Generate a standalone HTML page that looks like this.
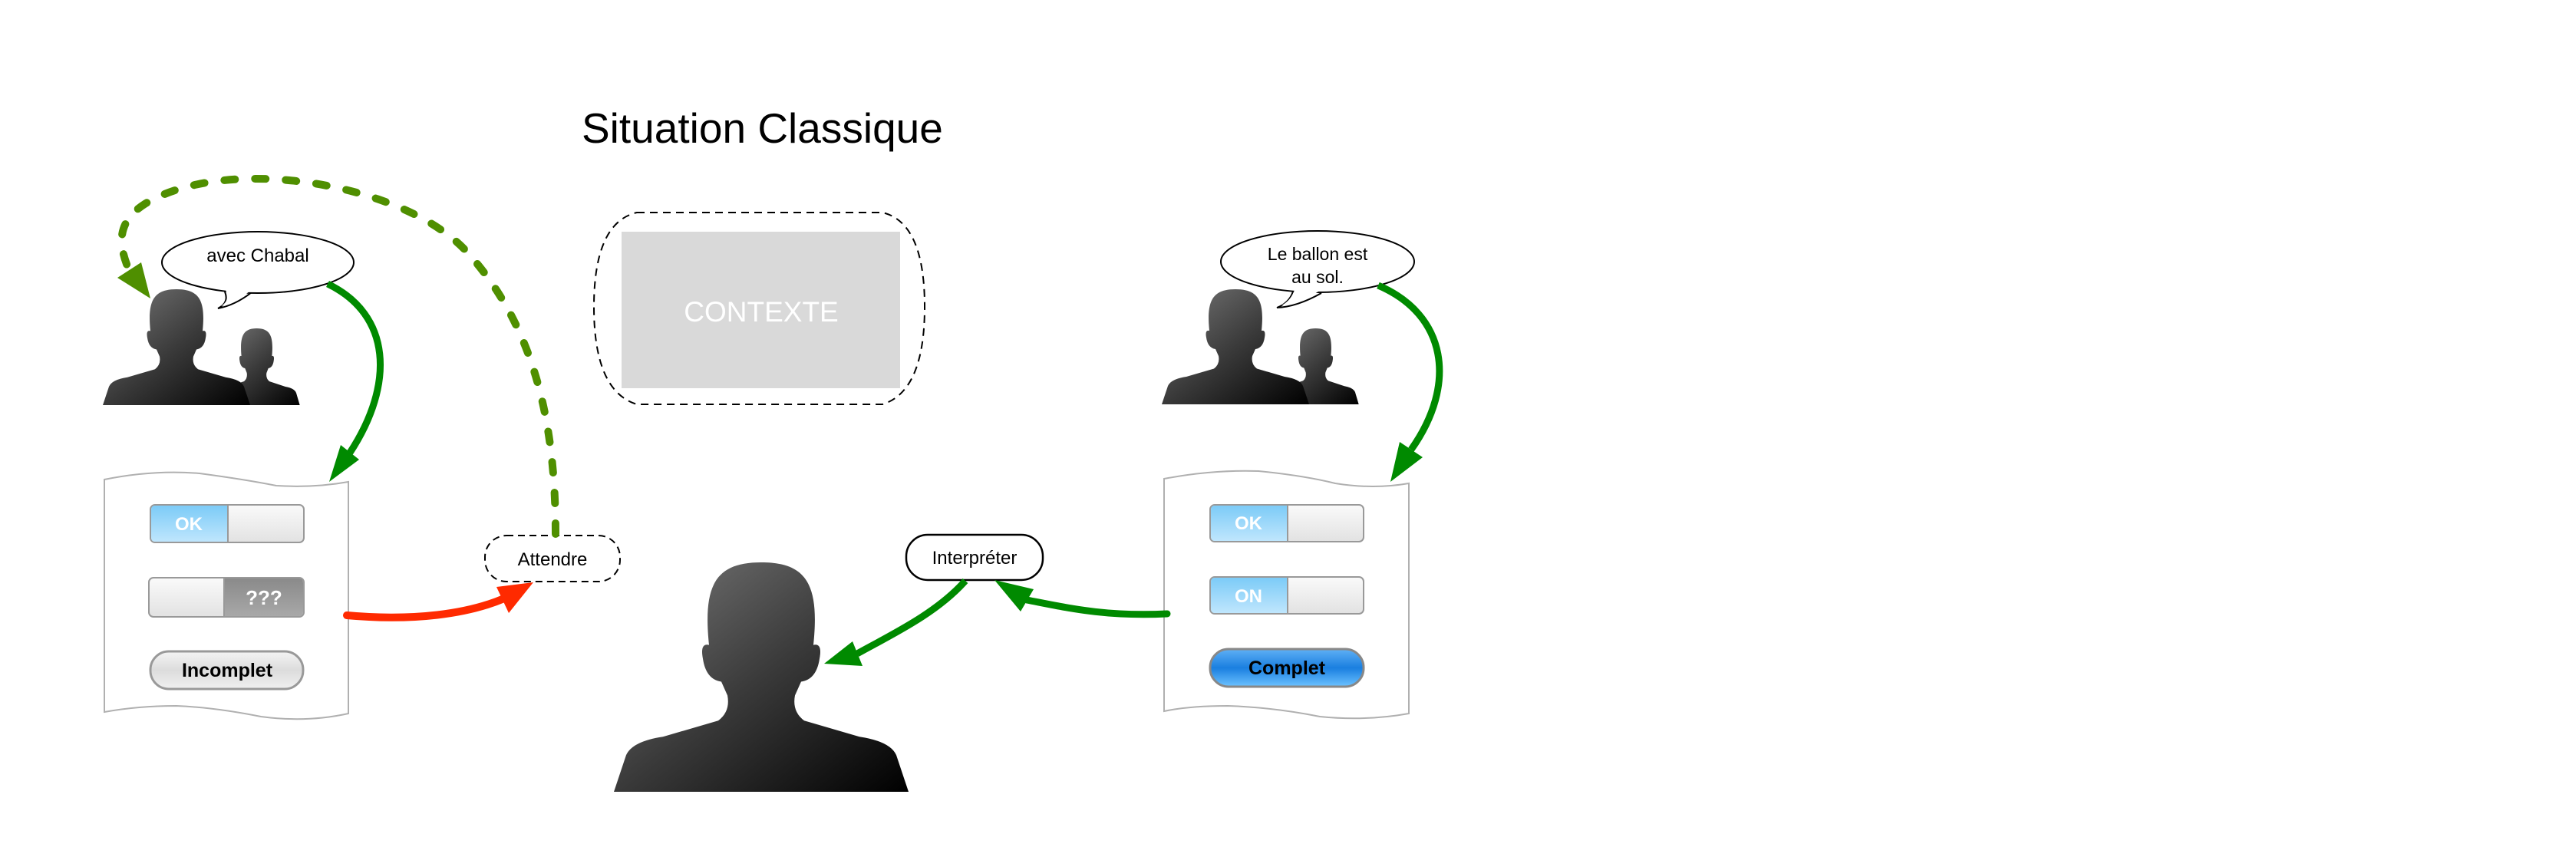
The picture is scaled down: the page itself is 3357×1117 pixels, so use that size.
<!DOCTYPE html>
<html><head><meta charset="utf-8"><style>
html,body{margin:0;padding:0;background:#fff;}
svg{display:block;}
text{font-family:"Liberation Sans",sans-serif;}
</style></head><body>
<svg width="3357" height="1117" viewBox="0 0 3357 1117" xmlns="http://www.w3.org/2000/svg">
<defs>
<linearGradient id="pg" x1="0" y1="0" x2="1" y2="1">
<stop offset="0" stop-color="#7a7a7a"/><stop offset="0.5" stop-color="#3a3a3a"/><stop offset="1" stop-color="#000"/>
</linearGradient>
<linearGradient id="blue" x1="0" y1="0" x2="0" y2="1">
<stop offset="0" stop-color="#7ccbf7"/><stop offset="1" stop-color="#bfe6fd"/>
</linearGradient>
<linearGradient id="wgray" x1="0" y1="0" x2="0" y2="1">
<stop offset="0" stop-color="#fafafa"/><stop offset="1" stop-color="#e2e2e2"/>
</linearGradient>
<linearGradient id="dgray" x1="0" y1="0" x2="0" y2="1">
<stop offset="0" stop-color="#8a8a8a"/><stop offset="1" stop-color="#a8a8a8"/>
</linearGradient>
<linearGradient id="btnb" x1="0" y1="0" x2="0" y2="1">
<stop offset="0" stop-color="#5fb0f5"/><stop offset="0.5" stop-color="#1a7fe0"/><stop offset="1" stop-color="#6cc2ff"/>
</linearGradient>
<linearGradient id="btng" x1="0" y1="0" x2="0" y2="1">
<stop offset="0" stop-color="#f4f4f4"/><stop offset="0.5" stop-color="#dcdcdc"/><stop offset="1" stop-color="#f0f0f0"/>
</linearGradient>
<symbol id="person" viewBox="0 0 100 100" preserveAspectRatio="none">
<path d="M2 100 L6 84 Q8 78 18 76 L36 69 Q40 65 39 58 L37 52 Q32 51 31 42 Q30 35 33 36 C31 10 35 0 50 0 C65 0 69 10 67 36 Q70 35 69 42 Q68 51 63 52 L61 58 Q60 65 64 69 L82 76 Q92 78 94 84 L98 100 Z" fill="url(#pg)"/>
</symbol>
</defs>

<text x="758" y="186" font-size="55" fill="#000">Situation Classique</text>

<!-- CONTEXTE -->
<path d="M830 277 L1150 277 Q1205 290 1205 400 Q1205 510 1150 527 L830 527 Q774 510 774 400 Q774 290 830 277 Z" fill="none" stroke="#000" stroke-width="2" stroke-dasharray="10 7"/>
<rect x="810" y="302" width="363" height="204" fill="#d9d9d9"/>
<text x="992" y="419" font-size="37" fill="#fff" text-anchor="middle">CONTEXTE</text>

<!-- left group -->
<use href="#person" x="276" y="428" width="117" height="100"/>
<use href="#person" x="130" y="377" width="200" height="151"/>
<path d="M292 378 Q300 394 284 402 Q306 398 328 381" fill="#fff" stroke="#000" stroke-width="2"/>
<ellipse cx="336" cy="342" rx="125" ry="40" fill="#fff" stroke="#000" stroke-width="2"/>
<path d="M294 378 Q300 392 288 399 Q306 394 325 380 Z" fill="#fff"/>
<text x="336" y="341" font-size="24" text-anchor="middle">avec Chabal</text>

<!-- right group -->
<use href="#person" x="1656" y="428" width="117" height="99"/>
<use href="#person" x="1510" y="377" width="200" height="150"/>
<path d="M1685 380 Q1680 395 1664 401 Q1690 400 1722 382" fill="#fff" stroke="#000" stroke-width="2"/>
<ellipse cx="1717" cy="341" rx="126" ry="40" fill="#fff" stroke="#000" stroke-width="2"/>
<path d="M1687 378 Q1682 392 1670 398 Q1692 396 1718 380 Z" fill="#fff"/>
<text x="1717" y="339" font-size="23" text-anchor="middle">Le ballon est</text>
<text x="1717" y="369" font-size="23" text-anchor="middle">au sol.</text>

<!-- big person -->
<use href="#person" x="792" y="733" width="400" height="299"/>

<!-- left doc -->
<path d="M136 625 Q200 612 260 617 Q320 625 360 633 Q410 636 454 628 L454 930 Q400 942 340 934 Q280 922 230 920 Q180 920 136 928 Z" fill="#fff" stroke="#b0b0b0" stroke-width="2"/>
<rect x="196" y="658" width="200" height="49" rx="6" fill="url(#wgray)" stroke="#999" stroke-width="2"/>
<path d="M202 659 H297 V706 H202 Q197 706 197 700 V665 Q197 659 202 659 Z" fill="url(#blue)"/>
<line x1="297" y1="659" x2="297" y2="706" stroke="#999" stroke-width="2"/>
<text x="246" y="691" font-size="24" font-weight="bold" fill="#fff" text-anchor="middle">OK</text>
<rect x="194" y="753" width="202" height="51" rx="6" fill="url(#wgray)" stroke="#999" stroke-width="2"/>
<path d="M292 754 H390 Q395 754 395 760 V797 Q395 803 390 803 H292 Z" fill="url(#dgray)"/>
<line x1="292" y1="754" x2="292" y2="803" stroke="#999" stroke-width="2"/>
<text x="344" y="788" font-size="26" font-weight="bold" fill="#fff" text-anchor="middle">???</text>
<rect x="196" y="849" width="199" height="49" rx="24" fill="url(#btng)" stroke="#999" stroke-width="3"/>
<text x="296" y="882" font-size="25" font-weight="bold" text-anchor="middle">Incomplet</text>

<!-- right doc -->
<path d="M1517 624 Q1580 612 1640 614 Q1700 620 1740 630 Q1790 638 1836 630 L1836 930 Q1780 940 1720 934 Q1660 922 1600 920 Q1550 920 1517 927 Z" fill="#fff" stroke="#b0b0b0" stroke-width="2"/>
<rect x="1577" y="658" width="200" height="48" rx="6" fill="url(#wgray)" stroke="#999" stroke-width="2"/>
<path d="M1583 659 H1678 V705 H1583 Q1578 705 1578 699 V665 Q1578 659 1583 659 Z" fill="url(#blue)"/>
<line x1="1678" y1="659" x2="1678" y2="705" stroke="#999" stroke-width="2"/>
<text x="1627" y="690" font-size="24" font-weight="bold" fill="#fff" text-anchor="middle">OK</text>
<rect x="1577" y="752" width="200" height="48" rx="6" fill="url(#wgray)" stroke="#999" stroke-width="2"/>
<path d="M1583 753 H1678 V799 H1583 Q1578 799 1578 793 V759 Q1578 753 1583 753 Z" fill="url(#blue)"/>
<line x1="1678" y1="753" x2="1678" y2="799" stroke="#999" stroke-width="2"/>
<text x="1627" y="785" font-size="24" font-weight="bold" fill="#fff" text-anchor="middle">ON</text>
<rect x="1577" y="846" width="200" height="49" rx="24" fill="url(#btnb)" stroke="#888" stroke-width="3"/>
<text x="1677" y="879" font-size="25" font-weight="bold" text-anchor="middle">Complet</text>

<!-- Attendre -->
<rect x="632" y="698" width="176" height="60" rx="28" fill="#fff" stroke="#000" stroke-width="2" stroke-dasharray="9 6"/>
<text x="720" y="737" font-size="24" text-anchor="middle">Attendre</text>
<!-- Interpreter -->
<rect x="1181" y="697" width="178" height="59" rx="28" fill="#fff" stroke="#000" stroke-width="2.5"/>
<text x="1270" y="735" font-size="24" text-anchor="middle">Interpréter</text>

<!-- dashed green arc -->
<path d="M724 696 C724 560 700 430 610 330 C530 240 300 200 190 265 C150 290 155 320 168 352" fill="none" stroke="#4f8f00" stroke-width="10" stroke-linecap="round" stroke-dasharray="14 26"/>
<polygon points="196,389 153,362 184,342" fill="#4f8f00"/>

<!-- green solid arrows -->
<path d="M427 370 C510 410 515 500 456 590" fill="none" stroke="#008a00" stroke-width="9"/>
<polygon points="429,628 444,580 468,599" fill="#008a00"/>
<path d="M1796 372 C1885 410 1900 500 1839 586" fill="none" stroke="#008a00" stroke-width="9"/>
<polygon points="1812,628 1824,576 1854,596" fill="#008a00"/>
<path d="M1521 800 C1440 804 1390 792 1338 782" fill="none" stroke="#008a00" stroke-width="9" stroke-linecap="round"/>
<polygon points="1296,756 1347,768 1330,797" fill="#008a00"/>
<path d="M1258 757 C1220 800 1160 828 1117 852" fill="none" stroke="#008a00" stroke-width="9"/>
<polygon points="1074,865 1111,836 1124,868" fill="#008a00"/>

<!-- red arrow -->
<path d="M452 802 C540 810 610 800 657 780" fill="none" stroke="#ff2a00" stroke-width="10" stroke-linecap="round"/>
<polygon points="695,759 663,799 647,765" fill="#ff2a00"/>
</svg>
</body></html>
